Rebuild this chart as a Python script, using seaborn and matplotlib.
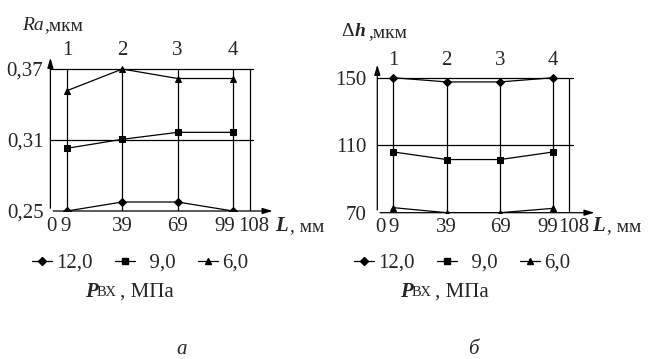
import numpy as np
import pandas as pd
import matplotlib
matplotlib.use("Agg")
import matplotlib.pyplot as plt
import matplotlib.transforms as mtrans
from matplotlib.lines import Line2D
import seaborn as sns

# data
L_points = [9, 39, 69, 99]
pressures = ['12,0', '9,0', '6,0']
ra_values = {
    '12,0': [0.250, 0.2576, 0.2576, 0.250],
    '9,0': [0.303, 0.3106, 0.3165, 0.3165],
    '6,0': [0.3517, 0.370, 0.362, 0.362],
}
dh_values = {
    '12,0': [150.0, 147.5, 147.5, 150.0],
    '9,0': [106.0, 101.5, 101.5, 106.0],
    '6,0': [73.0, 70.0, 70.0, 72.6],
}
x_ticks = [0, 9, 39, 69, 99, 108]
ra_ticks = [0.25, 0.31, 0.37]
ra_ticklabels = ['0,25', '0,31', '0,37']
dh_ticks = [70, 110, 150]
dh_ticklabels = ['70', '110', '150']
point_numbers = ['1', '2', '3', '4']
markers = {'12,0': 'D', '9,0': 's', '6,0': '^'}
legend_labels = {'12,0': '12,0', '9,0': '  9,0', '6,0': '6,0'}

W, H = 649, 359
FS = 15


def to_df(values, name):
    rows = []
    for p in pressures:
        for x, v in zip(L_points, values[p]):
            rows.append({'L': x, name: v, 'P': p})
    return pd.DataFrame(rows)


def frac(px, py):
    return px / W, 1 - py / H


sns.set_theme(style='white')
plt.rcParams['font.family'] = ['Liberation Serif', 'DejaVu Serif']

fig = plt.figure(figsize=(W / 100, H / 100), dpi=100)


def draw_panel(ax, df, col, ticks, ticklabels, hlines, xmax, ymin, ytop,
               top_off, ypad, xlab_shift):
    sns.lineplot(data=df, x='L', y=col, style='P', markers=markers, dashes=False,
                 color='black', linewidth=0.9, markersize=4.5,
                 markeredgecolor='black', legend=False, ax=ax, sort=False)
    for sp in ax.spines.values():
        sp.set_visible(False)
    ax.set_xlim(0, xmax)
    ax.set_ylim(ymin, ytop)
    ax.set_xlabel('')
    ax.set_ylabel('')
    ax.set_xticks(x_ticks)
    ax.set_xticklabels([str(t) for t in x_ticks], fontsize=FS)
    ax.set_yticks(ticks)
    ax.set_yticklabels(ticklabels, fontsize=FS)
    ax.tick_params(axis='x', length=0, pad=4)
    ax.tick_params(axis='y', length=0, pad=ypad)
    # nudge crowded tick labels like in the original
    for lab, dx in zip(ax.get_xticklabels(), xlab_shift):
        lab.set_transform(lab.get_transform() +
                          mtrans.ScaledTranslation(dx / 100, 0, fig.dpi_scale_trans))
    ax.grid(False)
    top = ticks[-1]
    for x in L_points + [108]:
        ax.plot([x, x], [ymin, top], color='black', lw=0.9)
    for y in hlines:
        ax.plot([0, 110], [y, y], color='black', lw=0.9)
    arrow = dict(arrowstyle='-|>,head_length=0.5,head_width=0.15', lw=0.9, color='black')
    ax.annotate('', xy=(xmax, ymin), xytext=(0, ymin), arrowprops=arrow, annotation_clip=False)
    ax.annotate('', xy=(0, ytop), xytext=(0, ymin), arrowprops=arrow, annotation_clip=False)
    for x, n in zip(L_points, point_numbers):
        ax.annotate(n, (x, top), xytext=(0, top_off), textcoords='offset points',
                    ha='center', va='center', fontsize=FS)


# panel a
l, b = frac(50.4, 211)
ax1 = fig.add_axes([l, b, 225 / W, (211 - 55) / H])
draw_panel(ax1, to_df(ra_values, 'Ra'), 'Ra', ra_ticks, ra_ticklabels,
           [0.31, 0.37], 122, 0.25, 0.25 + 156 / 1183, 13.5, 5,
           [1, -1, 0, 0, -8, 4])

# panel b
l, b = frac(377.3, 212.7)
ax2 = fig.add_axes([l, b, 220 / W, (212.7 - 62) / H])
draw_panel(ax2, to_df(dh_values, 'dh'), 'dh', dh_ticks, dh_ticklabels,
           [110, 150], 123.7, 70, 70 + 150.7 / 1.6875, 12.5, 8,
           [3, 0, 0, 0, -6, 4])

# axis titles
fig.text(*frac(22, 25), 'Ra', style='italic', fontsize=14, va='center', ha='left')
fig.text(*frac(44, 26), ',мкм', fontsize=14, va='center', ha='left')
fig.text(*frac(341, 32), 'Δ', fontsize=14, va='center', ha='left')
fig.text(*frac(355, 32), 'h', style='italic', weight='bold', fontsize=14, va='center', ha='left')
fig.text(*frac(368, 33), ',мкм', fontsize=14, va='center', ha='left')
for x0 in (275, 592):
    fig.text(*frac(x0, 226), 'L', style='italic', weight='bold', fontsize=FS, va='center', ha='left')
    fig.text(*frac(x0 + 15, 227), ', мм', fontsize=14, va='center', ha='left')

# legends
handles = [Line2D([], [], color='black', lw=0.9, marker=markers[p], markersize=4.5,
                  label=legend_labels[p]) for p in pressures]
for cx in (140, 462):
    fig.legend(handles=handles, ncol=3, loc='center', bbox_to_anchor=frac(cx, 263),
               frameon=False, fontsize=FS, handlelength=0.96, handletextpad=0.2,
               columnspacing=1.07, borderpad=0)

for x0 in (85, 400):
    fig.text(*frac(x0, 292), 'P', style='italic', weight='bold', fontsize=FS, va='center', ha='left')
    fig.text(*frac(x0 + 12, 293), 'ВХ', fontsize=10.5, va='center', ha='left')
    fig.text(*frac(x0 + 35, 292), ', МПа', fontsize=FS, va='center', ha='left')

fig.text(*frac(182, 350), 'а', style='italic', fontsize=FS, ha='center', va='center')
fig.text(*frac(473, 350), 'б', style='italic', fontsize=FS, ha='center', va='center')

fig.savefig('out.png', dpi=100)
